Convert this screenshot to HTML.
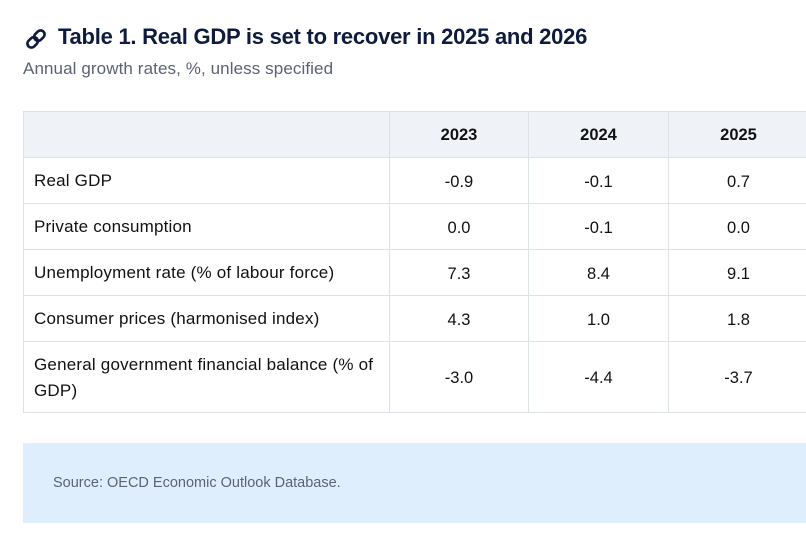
<!DOCTYPE html>
<html>
<head>
<meta charset="utf-8">
<style>
  html, body { margin:0; padding:0; }
  body { width:806px; height:545px; overflow:hidden; background:#ffffff; position:relative; font-family:"Liberation Sans", Arial, sans-serif; }
  .abs { position:absolute; white-space:nowrap; }
  .title { left:58px; top:26px; font-size:22px; line-height:22px; font-weight:bold; color:#0f1b3d; letter-spacing:-0.25px; }
  .sub { left:23px; top:60px; font-size:17px; line-height:17px; color:#5b6275; letter-spacing:0.1px; }
  .hl { position:absolute; left:23px; width:783px; height:1px; background:#dde1e8; }
  .vl { position:absolute; top:111px; height:302px; width:1px; background:#dde1e8; }
  .hdrbg { position:absolute; left:23px; top:111px; width:783px; height:46px; background:#eff2f7; }
  .lbl { position:absolute; left:34px; font-size:17px; color:#111; letter-spacing:0.2px; white-space:nowrap; }
  .num { position:absolute; font-size:16.5px; color:#111; text-align:center; white-space:nowrap; }
  .hd { position:absolute; font-size:16.5px; font-weight:bold; color:#111; text-align:center; }
  .src { position:absolute; left:23px; top:443px; width:783px; height:80px; background:#dfeefc; }
  .srct { left:53px; top:475px; font-size:14.5px; line-height:16px; color:#5b6275; }
</style>
</head>
<body>
  <svg class="abs" style="left:26px;top:29px;" width="20" height="20" viewBox="0 0 20 20">
    <g transform="rotate(-45 10 10)" fill="none" stroke="#0f1b3d" stroke-width="2.6" stroke-linecap="round">
      <rect x="-0.5" y="6" width="11.5" height="8" rx="4"/>
      <rect x="9" y="6" width="11.5" height="8" rx="4"/>
    </g>
  </svg>
  <div class="abs title">Table 1. Real GDP is set to recover in 2025 and 2026</div>
  <div class="abs sub">Annual growth rates, %, unless specified</div>

  <div class="hdrbg"></div>
  <div class="hl" style="top:111px"></div>
  <div class="hl" style="top:157px"></div>
  <div class="hl" style="top:203px"></div>
  <div class="hl" style="top:249px"></div>
  <div class="hl" style="top:295px"></div>
  <div class="hl" style="top:341px"></div>
  <div class="hl" style="top:412px"></div>
  <div class="vl" style="left:23px"></div>
  <div class="vl" style="left:389px"></div>
  <div class="vl" style="left:528px"></div>
  <div class="vl" style="left:668px"></div>

  <!-- header -->
  <div class="hd" style="left:390px;width:138px;top:112px;line-height:46px;">2023</div>
  <div class="hd" style="left:529px;width:139px;top:112px;line-height:46px;">2024</div>
  <div class="hd" style="left:669px;width:139px;top:112px;line-height:46px;">2025</div>

  <!-- rows -->
  <div class="lbl" style="top:158px;line-height:46px;">Real GDP</div>
  <div class="lbl" style="top:204px;line-height:46px;">Private consumption</div>
  <div class="lbl" style="top:250px;line-height:46px;">Unemployment rate (% of labour force)</div>
  <div class="lbl" style="top:296px;line-height:46px;">Consumer prices (harmonised index)</div>
  <div class="lbl" style="top:351.5px;line-height:26px;">General government financial balance (% of<br>GDP)</div>

  <div class="num" style="left:390px;width:138px;top:159px;line-height:46px;">-0.9</div>
  <div class="num" style="left:529px;width:139px;top:159px;line-height:46px;">-0.1</div>
  <div class="num" style="left:669px;width:139px;top:159px;line-height:46px;">0.7</div>

  <div class="num" style="left:390px;width:138px;top:205px;line-height:46px;">0.0</div>
  <div class="num" style="left:529px;width:139px;top:205px;line-height:46px;">-0.1</div>
  <div class="num" style="left:669px;width:139px;top:205px;line-height:46px;">0.0</div>

  <div class="num" style="left:390px;width:138px;top:251px;line-height:46px;">7.3</div>
  <div class="num" style="left:529px;width:139px;top:251px;line-height:46px;">8.4</div>
  <div class="num" style="left:669px;width:139px;top:251px;line-height:46px;">9.1</div>

  <div class="num" style="left:390px;width:138px;top:297px;line-height:46px;">4.3</div>
  <div class="num" style="left:529px;width:139px;top:297px;line-height:46px;">1.0</div>
  <div class="num" style="left:669px;width:139px;top:297px;line-height:46px;">1.8</div>

  <div class="num" style="left:390px;width:138px;top:343px;line-height:71px;">-3.0</div>
  <div class="num" style="left:529px;width:139px;top:343px;line-height:71px;">-4.4</div>
  <div class="num" style="left:669px;width:139px;top:343px;line-height:71px;">-3.7</div>

  <div class="src"></div>
  <div class="abs srct">Source: OECD Economic Outlook Database.</div>
</body>
</html>
